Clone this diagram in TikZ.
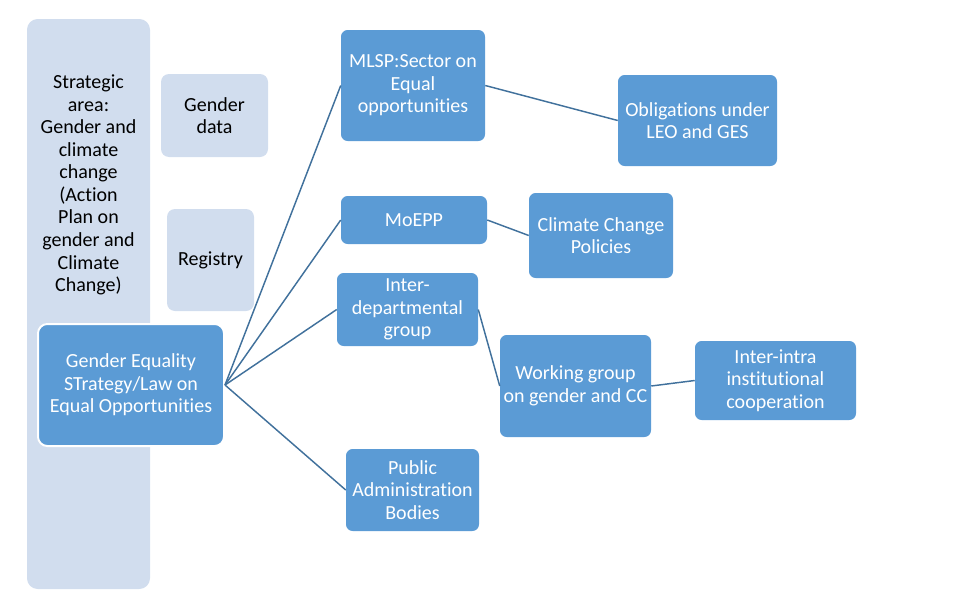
\documentclass[tikz,border=0pt]{standalone}
\usepackage{fontspec}
\setmainfont[Ligatures=NoCommon]{Carlito}
\definecolor{pale}{RGB}{209,221,238}
\definecolor{boxblue}{RGB}{91,155,213}
\definecolor{linkblue}{RGB}{65,113,156}
\begin{document}
\begin{tikzpicture}[x=0.75pt,y=-0.75pt,
  every node/.style={font=\fontsize{15}{16.9}\selectfont, align=center, inner sep=0pt},
  palebox/.style={fill=pale, rounded corners=6pt, draw=none},
  bluebox/.style={fill=boxblue, text=white, rounded corners=5pt, draw=none},
  link/.style={draw=linkblue, line width=1.1pt}]
\useasboundingbox (0,0) rectangle (963,614);
\node[palebox, rounded corners=8pt, minimum width=123*0.75pt, minimum height=570*0.75pt] (area) at (88.5,304) {};
\node (areatxt) at (88.5,185) {Strategic\\area:\\Gender and\\climate\\change\\(Action\\Plan on\\gender and\\Climate\\Change)};
\node[palebox, minimum width=107*0.75pt, minimum height=83*0.75pt] (gdata) at (214.5,115.5) {Gender\\data};
\node[palebox, minimum width=87*0.75pt, minimum height=102*0.75pt] (reg) at (210.5,260) {Registry};
\node[bluebox, draw=white, line width=1.5pt, rounded corners=7pt, minimum width=186*0.75pt, minimum height=122*0.75pt] (ge) at (131,385) {Gender Equality\\STrategy/Law on\\Equal Opportunities};
\node[bluebox, minimum width=144*0.75pt, minimum height=111*0.75pt] (mlsp) at (413,85.5) {MLSP:Sector on\\Equal\\opportunities};
\node[bluebox, minimum width=159*0.75pt, minimum height=91*0.75pt] (obl) at (697.5,120.5) {Obligations under\\LEO and GES};
\node[bluebox, minimum width=146*0.75pt, minimum height=48*0.75pt] (moepp) at (414,220) {MoEPP};
\node[bluebox, minimum width=144*0.75pt, minimum height=85*0.75pt] (ccp) at (601,235.5) {Climate Change\\Policies};
\node[bluebox, minimum width=141*0.75pt, minimum height=73*0.75pt] (idg) at (407.5,309.5) {Inter-\\departmental\\group};
\node[bluebox, minimum width=151*0.75pt, minimum height=102*0.75pt] (wg) at (575.5,386) {Working group\\on gender and CC};
\node[bluebox, minimum width=161*0.75pt, minimum height=79*0.75pt] (ii) at (775.5,380.5) {Inter-intra\\institutional\\cooperation};
\node[bluebox, minimum width=133*0.75pt, minimum height=82*0.75pt] (pab) at (412.5,490) {Public\\Administration\\Bodies};
\draw[link] (ge.east) -- (mlsp.west);
\draw[link] (ge.east) -- (moepp.west);
\draw[link] (ge.east) -- (idg.west);
\draw[link] (ge.east) -- (pab.west);
\draw[link] (mlsp.east) -- (obl.west);
\draw[link] (moepp.east) -- (ccp.west);
\draw[link] (idg.east) -- (wg.west);
\draw[link] (wg.east) -- (ii.west);
\end{tikzpicture}
\end{document}
